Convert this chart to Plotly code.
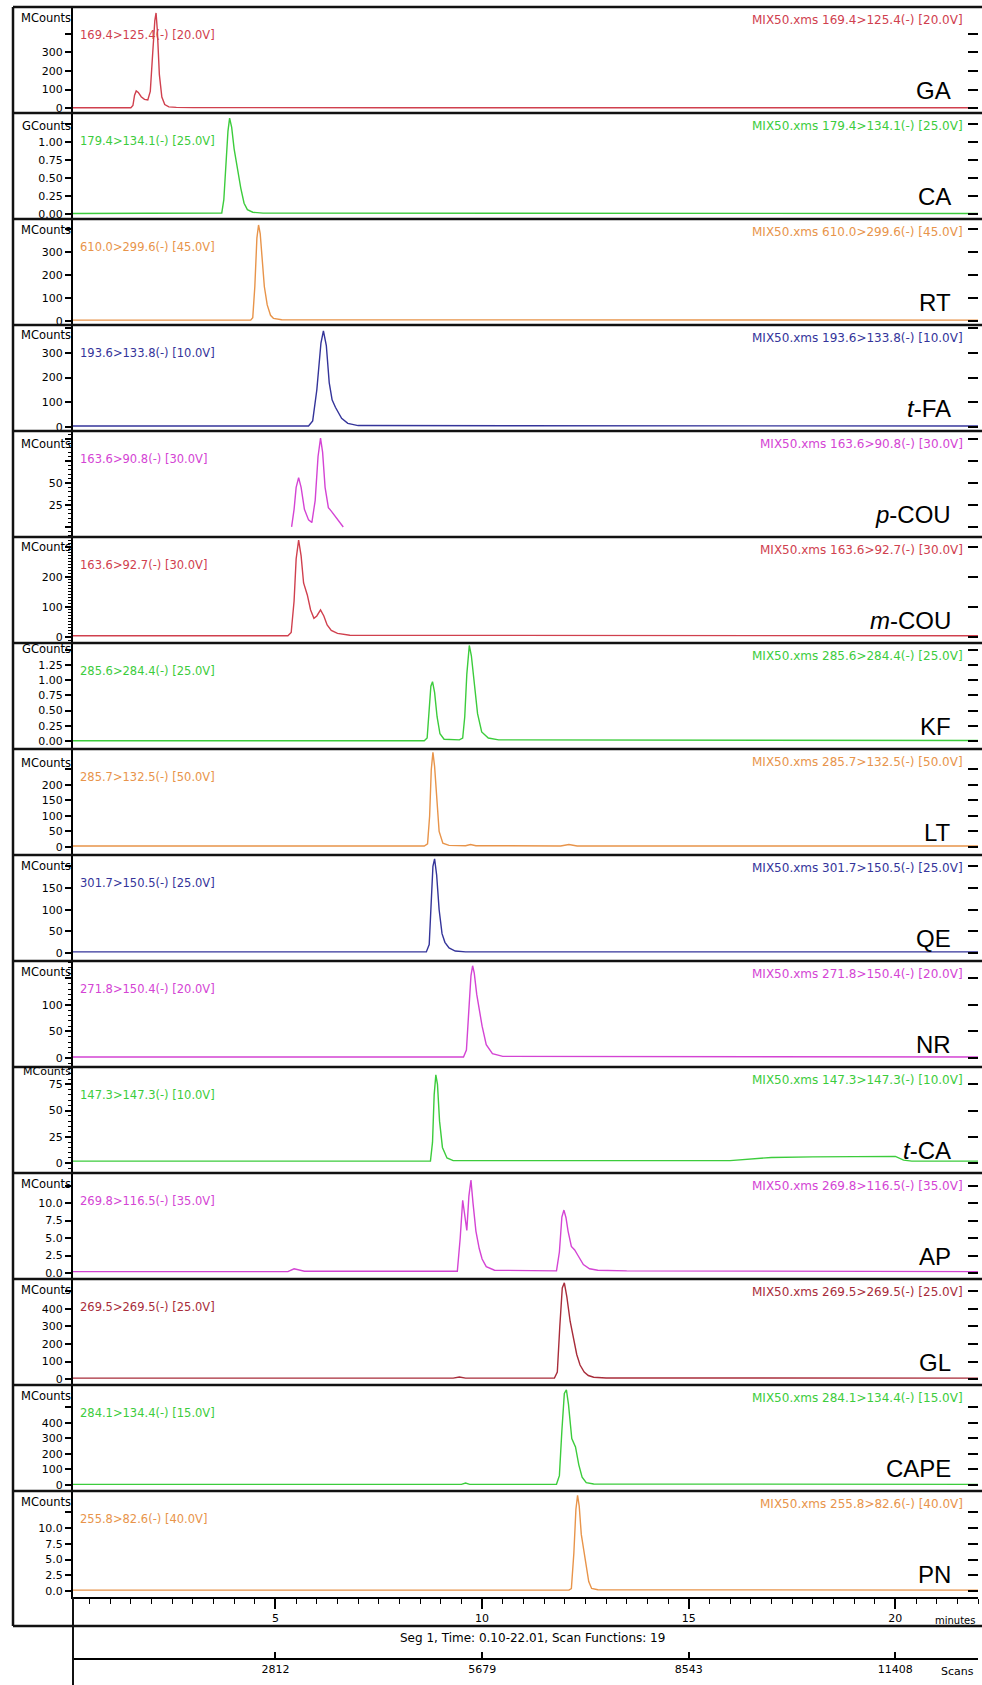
import plotly.graph_objects as go

# ---------------- data (time in minutes, intensity in panel units) ----------------
GA_t = [0.1, 1.0, 1.5, 1.55, 1.59, 1.63, 1.68, 1.75, 1.83, 1.91, 1.97, 2.03, 2.08, 2.11, 2.14, 2.19, 2.25, 2.32, 2.42, 2.6, 3.0, 8.0, 22.0]
GA_v = [3, 3, 3, 15, 70, 93, 85, 62, 48, 45, 90, 300, 470, 510, 420, 180, 60, 20, 8, 5, 4, 3, 3]

CA_t = [0.1, 3.6, 3.7, 3.75, 3.8, 3.85, 3.89, 3.94, 4.0, 4.08, 4.16, 4.24, 4.32, 4.45, 4.7, 22.0]
CA_v = [0.008, 0.008, 0.015, 0.2, 0.7, 1.15, 1.33, 1.2, 0.9, 0.6, 0.36, 0.15, 0.06, 0.025, 0.012, 0.008]

RT_t = [0.1, 4.4, 4.45, 4.5, 4.55, 4.59, 4.63, 4.68, 4.73, 4.8, 4.88, 4.95, 5.15, 22.0]
RT_v = [4, 4, 15, 150, 360, 417, 380, 260, 150, 70, 25, 12, 6, 4]

TFA_t = [0.1, 5.8, 5.9, 6.0, 6.1, 6.16, 6.23, 6.3, 6.37, 6.45, 6.6, 6.75, 7.0, 22.0]
TFA_v = [4, 4, 25, 150, 340, 389, 330, 180, 110, 80, 35, 15, 6, 4]

PCOU_t = [5.39, 5.45, 5.5, 5.56, 5.62, 5.7, 5.8, 5.88, 5.96, 6.03, 6.09, 6.14, 6.2, 6.28, 6.35, 6.45, 6.55, 6.64]
PCOU_v = [0, 20, 45, 56, 45, 20, 8, 5, 30, 80, 101, 85, 45, 22, 18, 12, 6, 0]

MCOU_t = [0.1, 5.3, 5.38, 5.45, 5.5, 5.56, 5.62, 5.68, 5.77, 5.85, 5.93, 6.0, 6.09, 6.17, 6.25, 6.35, 6.5, 6.8, 22.0]
MCOU_v = [4, 4, 15, 120, 260, 323, 270, 180, 140, 90, 62, 70, 90, 70, 40, 22, 12, 6, 4]

KF_t = [0.1, 8.6, 8.67, 8.72, 8.76, 8.8, 8.85, 8.91, 8.98, 9.08, 9.45, 9.53, 9.58, 9.63, 9.69, 9.74, 9.81, 9.89, 9.99, 10.15, 10.4, 22.0]
KF_v = [0.005, 0.005, 0.05, 0.5, 0.9, 0.975, 0.8, 0.4, 0.12, 0.03, 0.02, 0.05, 0.4, 1.1, 1.57, 1.4, 0.9, 0.45, 0.15, 0.05, 0.02, 0.01]

LT_t = [0.1, 8.6, 8.68, 8.73, 8.77, 8.81, 8.85, 8.9, 8.96, 9.05, 9.2, 9.6, 9.72, 9.85, 11.9, 12.1, 12.3, 22.0]
LT_v = [3, 3, 10, 100, 250, 305, 260, 150, 50, 12, 5, 4, 8, 4, 3, 8, 3, 3]

QE_t = [0.1, 8.65, 8.72, 8.77, 8.81, 8.85, 8.9, 8.96, 9.03, 9.1, 9.2, 9.35, 9.6, 22.0]
QE_v = [3, 3, 20, 120, 200, 217, 180, 100, 45, 25, 12, 5, 3, 3]

NR_t = [0.1, 9.55, 9.62, 9.68, 9.73, 9.77, 9.81, 9.87, 9.93, 10.0, 10.1, 10.25, 10.5, 22.0]
NR_v = [2, 2, 15, 90, 155, 174, 160, 120, 90, 60, 25, 8, 3, 2]

TCA_t = [0.1, 8.75, 8.8, 8.84, 8.88, 8.92, 8.97, 9.04, 9.15, 9.3, 16.0, 16.5, 17.0, 18.0, 19.0, 20.0, 20.2, 20.4, 22.0]
TCA_v = [2, 2, 20, 65, 84, 75, 40, 15, 5, 2.5, 2.5, 4, 5.5, 6, 6.5, 6.5, 3, 2, 2]

AP_t = [0.1, 5.3, 5.45, 5.55, 5.7, 9.4, 9.47, 9.53, 9.58, 9.63, 9.68, 9.73, 9.78, 9.85, 9.93, 10.0, 10.1, 10.3, 11.8, 11.87, 11.93, 11.98, 12.03, 12.08, 12.16, 12.24, 12.32, 12.45, 12.6, 12.8, 13.5, 22.0]
AP_v = [0.2, 0.2, 0.6, 0.5, 0.25, 0.25, 5, 10.4, 8, 6.1, 11, 13.3, 10, 6, 3.5, 2, 0.9, 0.4, 0.3, 3, 8, 9, 7.9, 6, 3.8, 3.3, 2.5, 1.2, 0.6, 0.4, 0.3, 0.2]

GL_t = [0.1, 9.3, 9.45, 9.6, 11.75, 11.82, 11.88, 11.94, 11.99, 12.05, 12.13, 12.22, 12.29, 12.37, 12.47, 12.57, 12.7, 13.0, 22.0]
GL_v = [5, 5, 12, 5, 5, 40, 300, 520, 549, 470, 330, 223, 140, 80, 40, 20, 10, 6, 5]

CAPE_t = [0.1, 9.5, 9.6, 9.7, 11.8, 11.87, 11.93, 11.99, 12.04, 12.09, 12.17, 12.26, 12.34, 12.42, 12.52, 12.7, 22.0]
CAPE_v = [4, 4, 12, 4, 4, 60, 350, 590, 613, 520, 300, 245, 130, 50, 15, 6, 4]

PN_t = [0.1, 12.1, 12.16, 12.22, 12.27, 12.31, 12.35, 12.4, 12.46, 12.52, 12.58, 12.65, 12.8, 22.0]
PN_v = [0.15, 0.15, 0.4, 6, 13, 15.2, 13.5, 9, 6.5, 4, 1.5, 0.4, 0.2, 0.15]

COMPOUNDS = ["GA", "CA", "RT", "<i>t</i>-FA", "<i>p</i>-COU", "<i>m</i>-COU", "KF", "LT", "QE", "NR",
             "<i>t</i>-CA", "AP", "GL", "CAPE", "PN"]
UNITS = ["MCounts", "GCounts", "MCounts", "MCounts", "MCounts", "MCounts", "GCounts", "MCounts",
         "MCounts", "MCounts", "MCounts", "MCounts", "MCounts", "MCounts", "MCounts"]
TRANSITIONS = ["169.4>125.4(-) [20.0V]", "179.4>134.1(-) [25.0V]", "610.0>299.6(-) [45.0V]",
               "193.6>133.8(-) [10.0V]", "163.6>90.8(-) [30.0V]", "163.6>92.7(-) [30.0V]",
               "285.6>284.4(-) [25.0V]", "285.7>132.5(-) [50.0V]", "301.7>150.5(-) [25.0V]",
               "271.8>150.4(-) [20.0V]", "147.3>147.3(-) [10.0V]", "269.8>116.5(-) [35.0V]",
               "269.5>269.5(-) [25.0V]", "284.1>134.4(-) [15.0V]", "255.8>82.6(-) [40.0V]"]
FILE_NAME = "MIX50.xms"

TICKS = [
    [0, 100, 200, 300, 400],
    [0, 0.25, 0.5, 0.75, 1.0, 1.25],
    [0, 100, 200, 300, 400],
    [0, 100, 200, 300, 400],
    [0, 25, 50, 75, 100],
    [0, 100, 200, 300],
    [0, 0.25, 0.5, 0.75, 1.0, 1.25, 1.5],
    [0, 50, 100, 150, 200, 250],
    [0, 50, 100, 150, 200],
    [0, 50, 100, 150],
    [0, 25, 50, 75],
    [0, 2.5, 5, 7.5, 10, 12.5],
    [0, 100, 200, 300, 400, 500],
    [0, 100, 200, 300, 400, 500],
    [0, 2.5, 5, 7.5, 10, 12.5],
]
TICK_TEXT = [
    ["0", "100", "200", "300", ""],
    ["0.00", "0.25", "0.50", "0.75", "1.00", ""],
    ["0", "100", "200", "300", ""],
    ["0", "100", "200", "300", ""],
    ["", "25", "50", "", ""],
    ["0", "100", "200", ""],
    ["0.00", "0.25", "0.50", "0.75", "1.00", "1.25", ""],
    ["0", "50", "100", "150", "200", ""],
    ["0", "50", "100", "150", ""],
    ["0", "50", "100", ""],
    ["0", "25", "50", "75"],
    ["0.0", "2.5", "5.0", "7.5", "10.0", ""],
    ["0", "100", "200", "300", "400", ""],
    ["0", "100", "200", "300", "400", ""],
    ["0.0", "2.5", "5.0", "7.5", "10.0", ""],
]

MINUTE_TICKS = [5, 10, 15, 20]
SCAN_TICKS = [2812, 5679, 8543, 11408]
SCAN_LABELS = ["2812", "5679", "8543", "11408"]
SEG_TEXT = "Seg 1, Time: 0.10-22.01, Scan Functions: 19"

SERIES_T = [GA_t, CA_t, RT_t, TFA_t, PCOU_t, MCOU_t, KF_t, LT_t, QE_t, NR_t, TCA_t, AP_t, GL_t, CAPE_t, PN_t]
SERIES_V = [GA_v, CA_v, RT_v, TFA_v, PCOU_v, MCOU_v, KF_v, LT_v, QE_v, NR_v, TCA_v, AP_v, GL_v, CAPE_v, PN_v]

# ---------------- styling / layout ----------------
RED = "#d0404e"
DARKRED = "#a82c3a"
GREEN = "#3ccc3c"
ORANGE = "#e8944a"
BLUE = "#34349a"
MAGENTA = "#d444d4"
COLORS = [RED, GREEN, ORANGE, BLUE, MAGENTA, RED, GREEN, ORANGE, BLUE, MAGENTA, GREEN, MAGENTA, DARKRED, GREEN, ORANGE]

Y_RANGES = [[-25, 542], [-0.069, 1.40], [-17, 443], [-16, 413], [-11.4, 109], [-20, 333],
            [-0.13, 1.61], [-26, 316], [-18, 226], [-17, 183], [-9.3, 91.5], [-0.86, 14.3],
            [-34, 571], [-39, 645], [-0.95, 15.9]]
MINOR = [None, None, None, None, 5, 10, None, None, None, 10, 5, None, None, None, None]
UNIT_DY = [11, 13, 11, 10, 13, 10, 6, 14, 11, 11, 4, 11, 11, 11, 11]
UNIT_SIZE = [11.5, 11.5, 11.5, 11.5, 11.5, 11.5, 11.5, 11.5, 11.5, 11.5, 11, 11.5, 11.5, 11.5, 11.5]
X_RANGE = [0.1, 22.0]

W, H = 982, 1685
ML, MR, MT, MB = 73, 4, 7, 26
PW = W - ML - MR
PH = H - MT - MB
PANEL_TOP = 7
PANEL_H = 106
FONT = "DejaVu Sans"


def px_x(p):
    return (p - ML) / PW


def px_y(p):
    return (H - MB - p) / PH


fig = go.Figure()
layout = dict(width=W, height=H, autosize=False,
              margin=dict(l=ML, r=MR, t=MT, b=MB, pad=0),
              paper_bgcolor="white", plot_bgcolor="white",
              font=dict(family=FONT, size=11, color="black"),
              showlegend=False)
annotations = []
shapes = []
n = len(COMPOUNDS)

for i in range(n):
    k = i + 1
    top = PANEL_TOP + PANEL_H * i
    bot = top + PANEL_H
    xa = "x" if k == 1 else f"x{k}"
    ya = "y" if k == 1 else f"y{k}"
    rk = n + k
    col = COLORS[i]
    fig.add_trace(go.Scatter(x=SERIES_T[i], y=SERIES_V[i], mode="lines",
                             line=dict(color=col, width=1.4), xaxis=xa, yaxis=ya,
                             hoverinfo="skip", showlegend=False))
    fig.add_trace(go.Scatter(x=[None], y=[None], mode="lines", xaxis=xa, yaxis=f"y{rk}",
                             hoverinfo="skip", showlegend=False))
    xax = dict(domain=[0, 1], range=X_RANGE, anchor=ya, showgrid=False, zeroline=False)
    if k < n:
        xax.update(visible=False)
    else:
        xax.update(visible=True, showline=True, linewidth=2, linecolor="black",
                   ticks="outside", tickvals=MINUTE_TICKS, ticklen=10, tickwidth=1.5,
                   tickcolor="black", tickfont=dict(size=11, family=FONT),
                   minor=dict(tickmode="linear", tick0=0, dtick=0.5, ticks="outside",
                              ticklen=5, tickwidth=1.3, tickcolor="black"))
    layout["xaxis" if k == 1 else f"xaxis{k}"] = xax
    yax = dict(domain=[px_y(bot), px_y(top)], anchor=xa, range=Y_RANGES[i],
               tickmode="array", tickvals=TICKS[i], ticktext=TICK_TEXT[i],
               ticks="outside", ticklen=6, tickwidth=1.5, tickcolor="black",
               showline=True, linewidth=2, linecolor="black",
               showgrid=False, zeroline=False, tickfont=dict(size=11, family=FONT))
    if MINOR[i]:
        yax["minor"] = dict(tickmode="linear", tick0=0, dtick=MINOR[i], ticks="outside",
                            ticklen=3, tickwidth=1, tickcolor="black")
    layout["yaxis" if k == 1 else f"yaxis{k}"] = yax
    layout[f"yaxis{rk}"] = dict(overlaying=ya, side="right", anchor=xa, range=Y_RANGES[i],
                                tickmode="array", tickvals=TICKS[i], ticks="inside",
                                ticklen=10, tickwidth=2, tickcolor="black",
                                showticklabels=False, showline=False, showgrid=False,
                                zeroline=False)
    # texts
    annotations.append(dict(x=px_x(73), y=px_y(top + UNIT_DY[i]), xref="paper", yref="paper",
                            text=UNITS[i], showarrow=False, xanchor="right", yanchor="middle",
                            font=dict(size=UNIT_SIZE[i], family=FONT, color="black")))
    annotations.append(dict(x=px_x(78), y=px_y(top + 28), xref="paper", yref="paper",
                            text=TRANSITIONS[i], showarrow=False, xanchor="left", yanchor="middle",
                            font=dict(size=11.5, family=FONT, color=col)))
    annotations.append(dict(x=px_x(965), y=px_y(top + 13), xref="paper", yref="paper",
                            text=f"{FILE_NAME} {TRANSITIONS[i]}", showarrow=False,
                            xanchor="right", yanchor="middle",
                            font=dict(size=12, family=FONT, color=col)))
    annotations.append(dict(x=px_x(953), y=px_y(top + 83), xref="paper", yref="paper",
                            text=COMPOUNDS[i], showarrow=False, xanchor="right", yanchor="middle",
                            font=dict(size=24, family="Liberation Sans", color="black")))
    shapes.append(dict(type="line", xref="paper", yref="paper", x0=px_x(13), x1=px_x(982),
                       y0=px_y(top), y1=px_y(top), line=dict(color="#111111", width=2.5)))

# scans axis
spm = (SCAN_TICKS[-1] - SCAN_TICKS[0]) / (MINUTE_TICKS[-1] - MINUTE_TICKS[0])
scan_range = [SCAN_TICKS[0] + (X_RANGE[0] - MINUTE_TICKS[0]) * spm,
              SCAN_TICKS[0] + (X_RANGE[1] - MINUTE_TICKS[0]) * spm]
fig.add_trace(go.Scatter(x=[None], y=[None], mode="lines", xaxis="x16", yaxis=f"y{n}",
                         hoverinfo="skip", showlegend=False))
layout["xaxis16"] = dict(overlaying=f"x{n}", anchor="free", position=0, side="bottom",
                         range=scan_range, tickmode="array", tickvals=SCAN_TICKS,
                         ticktext=SCAN_LABELS,
                         ticks="inside", ticklen=6, tickwidth=1.5, tickcolor="black",
                         showline=True, linewidth=2, linecolor="black",
                         showgrid=False, zeroline=False, tickfont=dict(size=11, family=FONT))

# frame lines
shapes.append(dict(type="line", xref="paper", yref="paper", x0=px_x(13), x1=px_x(13),
                   y0=px_y(1626), y1=px_y(7), line=dict(color="#111111", width=2.5)))
shapes.append(dict(type="line", xref="paper", yref="paper", x0=px_x(13), x1=px_x(982),
                   y0=px_y(1626), y1=px_y(1626), line=dict(color="#111111", width=2.5)))
shapes.append(dict(type="line", xref="paper", yref="paper", x0=0, x1=0,
                   y0=px_y(1685), y1=px_y(1597), line=dict(color="#111111", width=2)))

annotations.append(dict(x=px_x(977), y=px_y(1620), xref="paper", yref="paper", text="minutes",
                        showarrow=False, xanchor="right", yanchor="middle",
                        font=dict(size=10, family=FONT)))
annotations.append(dict(x=px_x(976), y=px_y(1672), xref="paper", yref="paper", text="Scans",
                        showarrow=False, xanchor="right", yanchor="middle",
                        font=dict(size=11, family=FONT)))
annotations.append(dict(x=px_x(532), y=px_y(1638), xref="paper", yref="paper", text=SEG_TEXT,
                        showarrow=False, xanchor="center", yanchor="middle",
                        font=dict(size=12, family=FONT)))

layout["annotations"] = annotations
layout["shapes"] = shapes
fig.update_layout(**layout)
fig.write_html("out.html", config={"displayModeBar": False},
               post_script="document.body.style.margin='0';document.body.style.overflow='hidden';")
